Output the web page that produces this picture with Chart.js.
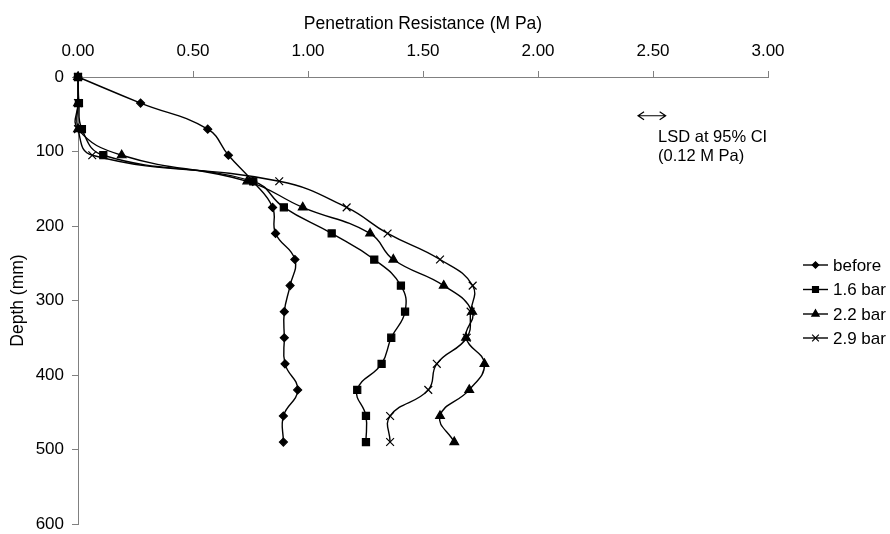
<!DOCTYPE html>
<html>
<head>
<meta charset="utf-8">
<script src="https://cdn.jsdelivr.net/npm/chart.js@4/dist/chart.umd.min.js"></script>
<style>
  html, body { margin: 0; padding: 0; background: #fff; }
  #wrap { width: 890px; height: 534px; position: relative; }
</style>
</head>
<body>
<div id="wrap"><canvas id="c"></canvas></div>
<script>
// Soil penetration resistance profiles, depth in mm (measured every 35 mm)
const depths = [0, 35, 70, 105, 140, 175, 210, 245, 280, 315, 350, 385, 420, 455, 490];
const before = [0, 0.272, 0.564, 0.654, 0.76, 0.846, 0.859, 0.943, 0.922, 0.897, 0.897, 0.9, 0.955, 0.893, 0.893];
const bar16  = [0, 0.004, 0.017, 0.11, 0.762, 0.895, 1.103, 1.288, 1.404, 1.422, 1.362, 1.32, 1.214, 1.252, 1.252];
const bar22  = [0, 0, 0, 0.19, 0.736, 0.977, 1.27, 1.371, 1.59, 1.714, 1.687, 1.767, 1.701, 1.574, 1.636];
const bar29  = [0, 0, 0, 0.062, 0.875, 1.168, 1.346, 1.574, 1.716, 1.707, 1.69, 1.56, 1.523, 1.357, 1.357];
const seriesNames = ['before', '1.6 bar', '2.2 bar', '2.9 bar'];
const xTickValues = [0, 0.5, 1, 1.5, 2, 2.5, 3];
const yTickValues = [0, 100, 200, 300, 400, 500, 600];
const lsdValue = 0.12;     // least significant difference, M Pa
const lsdCentre = 2.495;   // where the LSD bar sits on the resistance axis
const lsdDepth = 52;       // depth at which the LSD bar is drawn

const FONT = '"Liberation Sans", Arial, Helvetica, sans-serif';
const AXIS_GREY = '#808080';

const markerStyles = [
  { pointStyle: 'rectRot', radius: 4 },
  { pointStyle: 'rect', radius: 5 },
  { pointStyle: 'triangle', radius: 5 },
  { pointStyle: 'crossRot', radius: 5.5 }
];

function toPoints(values) {
  return values.map((v, i) => ({ x: v, y: depths[i] }));
}

const seriesValues = [before, bar16, bar22, bar29];
const datasets = seriesValues.map((vals, i) => ({
  label: seriesNames[i],
  data: toPoints(vals),
  showLine: true,
  borderColor: '#000',
  backgroundColor: '#000',
  borderWidth: 1.4,
  tension: 0.45,
  capBezierPoints: false,
  clip: false,
  pointStyle: markerStyles[i].pointStyle,
  pointRadius: markerStyles[i].radius,
  pointBorderColor: '#000',
  pointBackgroundColor: '#000',
  pointBorderWidth: 1.2,
  pointHoverRadius: markerStyles[i].radius
}));

// Legend with a short line through each marker, placed to the right of the plot
const sideLegend = {
  id: 'sideLegend',
  afterDraw(chart) {
    const ctx = chart.ctx;
    const rows = [265, 289.5, 314, 338];
    ctx.save();
    ctx.font = '17px ' + FONT;
    ctx.textBaseline = 'middle';
    ctx.textAlign = 'left';
    ctx.fillStyle = '#000';
    seriesNames.forEach((name, i) => {
      const y = rows[i];
      ctx.strokeStyle = '#000';
      ctx.lineWidth = 1.4;
      ctx.beginPath();
      ctx.moveTo(803, y);
      ctx.lineTo(828, y);
      ctx.stroke();
      ctx.fillStyle = '#000';
      ctx.lineWidth = 1.2;
      Chart.helpers.drawPoint(ctx, {
        pointStyle: markerStyles[i].pointStyle,
        radius: markerStyles[i].radius - 0.8,
        rotation: 0,
        borderWidth: 1.2
      }, 815.5, y);
      ctx.fillStyle = '#000';
      ctx.fillText(name, 833, y + 1);
    });
    ctx.restore();
  }
};

// Double-headed arrow showing the LSD width on the resistance scale
const lsdMarker = {
  id: 'lsdMarker',
  afterDraw(chart) {
    const { ctx, scales: { x, y } } = chart;
    const x0 = x.getPixelForValue(lsdCentre - lsdValue / 2);
    const x1 = x.getPixelForValue(lsdCentre + lsdValue / 2);
    const py = y.getPixelForValue(lsdDepth);
    ctx.save();
    ctx.strokeStyle = '#000';
    ctx.lineWidth = 1.2;
    ctx.beginPath();
    ctx.moveTo(x0, py);
    ctx.lineTo(x1, py);
    ctx.moveTo(x0 + 6, py - 4);
    ctx.lineTo(x0, py);
    ctx.lineTo(x0 + 6, py + 4);
    ctx.moveTo(x1 - 6, py - 4);
    ctx.lineTo(x1, py);
    ctx.lineTo(x1 - 6, py + 4);
    ctx.stroke();
    ctx.font = '16.5px ' + FONT;
    ctx.fillStyle = '#000';
    ctx.textAlign = 'left';
    ctx.textBaseline = 'middle';
    ctx.fillText('LSD at 95% CI', x0 + 20, py + 21.5);
    ctx.fillText('(0.12 M Pa)', x0 + 20, py + 41);
    ctx.restore();
  }
};

new Chart(document.getElementById('c'), {
  type: 'scatter',
  data: { datasets },
  options: {
    responsive: true,
    maintainAspectRatio: false,
    animation: false,
    events: [],
    layout: { padding: { left: 0, top: 0, right: 122, bottom: 10 } },
    plugins: {
      legend: { display: false },
      tooltip: { enabled: false }
    },
    scales: {
      x: {
        type: 'linear',
        position: 'top',
        min: 0,
        max: 3,
        afterBuildTicks: s => { s.ticks = xTickValues.map(v => ({ value: v })); },
        afterFit: s => { s.height = 77; s.paddingLeft = 0; s.paddingRight = 0; },
        ticks: {
          color: '#000',
          font: { family: FONT, size: 17 },
          padding: 9,
          maxRotation: 0,
          callback: v => Number(v).toFixed(2)
        },
        grid: {
          drawOnChartArea: false,
          drawTicks: true,
          tickLength: 6,
          color: AXIS_GREY
        },
        border: { display: true, color: AXIS_GREY, width: 1 },
        title: {
          display: true,
          text: 'Penetration Resistance (M Pa)',
          color: '#000',
          font: { family: FONT, size: 17.5 },
          padding: { top: 14, bottom: 0 }
        }
      },
      y: {
        type: 'linear',
        reverse: true,
        min: 0,
        max: 600,
        afterBuildTicks: s => { s.ticks = yTickValues.map(v => ({ value: v })); },
        afterFit: s => { s.width = 78; s.paddingTop = 0; s.paddingBottom = 0; },
        ticks: {
          color: '#000',
          font: { family: FONT, size: 17 },
          padding: 8,
          callback: v => String(v)
        },
        grid: {
          drawOnChartArea: false,
          drawTicks: true,
          tickLength: 6,
          color: AXIS_GREY
        },
        border: { display: true, color: AXIS_GREY, width: 1 },
        title: {
          display: true,
          text: 'Depth (mm)',
          color: '#000',
          font: { family: FONT, size: 17.5 },
          padding: { top: 8, bottom: 0 }
        }
      }
    }
  },
  plugins: [sideLegend, lsdMarker]
});
</script>
</body>
</html>
